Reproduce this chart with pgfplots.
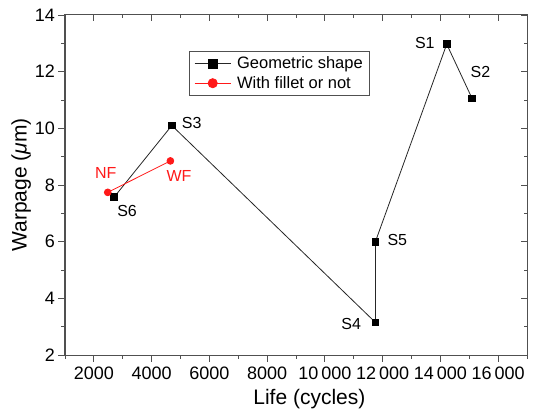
\documentclass[border=0pt]{standalone}
\usepackage{fontspec}
\setmainfont{Liberation Sans}
\usepackage{pgfplots}
\pgfplotsset{compat=1.18}
\definecolor{myred}{RGB}{255,25,25}
\definecolor{axgray}{RGB}{80,80,80}
\pgfplotsset{
  base/.style={
    width=462pt, height=340pt, scale only axis,
    xmin=1000, xmax=17000, ymin=2, ymax=14,
    scaled x ticks=false,
    xtick={2000,4000,...,16000},
    minor xtick={1000,3000,...,17000},
    ytick={2,4,...,14},
    minor ytick={3,5,...,13},
    major tick length=6.5pt, minor tick length=3.5pt,
    every tick/.style={axgray, line width=0.9pt},
    axis line style={axgray, line width=1pt},
  }
}
\begin{document}
\begin{tikzpicture}
\begin{axis}[base,
  tick pos=right, tick align=inside,
  xticklabels={}, yticklabels={},
]
\end{axis}
\begin{axis}[base,
  xticklabels={2000,4000,6000,8000,10\,000,12\,000,14\,000,16\,000},
  tick pos=left,
  tick align=outside,
  /pgf/number format/assume math mode=true,
  tick label style={font=\fontsize{18}{21}\selectfont},
  xticklabel style={yshift=-2pt},
  label style={font=\fontsize{21}{24}\selectfont},
  xlabel={Life (cycles)},
  ylabel={Warpage ({\itshape μ}m)},
  xlabel style={at={(axis description cs:0.529,-0.129)}, anchor=center},
  ylabel style={at={(axis description cs:-0.095,0.5)}, anchor=center},
  legend style={at={(0.268,0.894)}, anchor=north west, draw=axgray, line width=1pt,
    font=\fontsize{16.5}{20}\selectfont, inner xsep=5pt, inner ysep=3.5pt, row sep=2pt},
  legend cell align=left,
  legend image code/.code={
    \draw[mark repeat=2,mark phase=2, every mark/.append style={scale=1.35}]
      plot coordinates {(0pt,0pt) (18pt,0pt) (36pt,0pt)};
    \path (0pt,0pt) (40pt,0pt);},
]
\addplot[black!85, line width=0.8pt, mark=square*, mark size=3.3pt, mark options={black, solid}]
  coordinates {(2700,7.57) (4700,10.1) (11750,3.15) (11750,6.0) (14220,12.97) (15100,11.05)};
\addlegendentry{Geometric shape}
\addplot[myred, line width=0.8pt, mark=*, mark size=3.4pt, mark options={myred, solid}]
  coordinates {(2480,7.74) (4650,8.85)};
\addlegendentry{With fillet or not}
\begin{scope}[every node/.style={font=\fontsize{16}{19}\selectfont}]
\node at (axis cs:13460,13.0) {S1};
\node at (axis cs:15390,12.0) {S2};
\node at (axis cs:5390,10.2) {S3};
\node at (axis cs:10910,3.09) {S4};
\node at (axis cs:12510,6.06) {S5};
\node at (axis cs:3150,7.09) {S6};
\node[text=myred] at (axis cs:2410,8.41) {NF};
\node[text=myred] at (axis cs:4950,8.32) {WF};
\end{scope}
\end{axis}
\path (current axis.south west) ++(-65pt,-62pt) coordinate (bbA) ++(534pt,417pt) coordinate (bbB);
\useasboundingbox (bbA) rectangle (bbB);
\end{tikzpicture}
\end{document}
